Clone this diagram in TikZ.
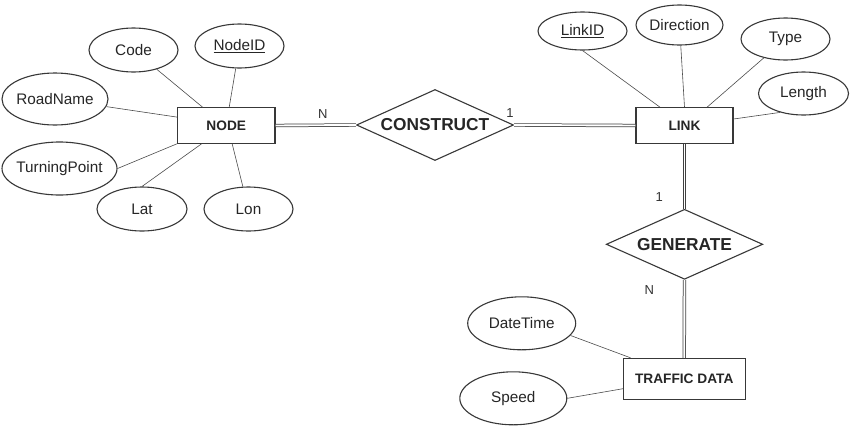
\documentclass[tikz,border=0pt]{standalone}
\usepackage{fontspec}
\setmainfont{Liberation Sans}
\usetikzlibrary{shapes.geometric,calc}
\newcommand{\zb}[1]{\makebox[0pt][c]{#1}}
\begin{document}
\begin{tikzpicture}[x=1pt,y=-1pt,
  ink/.style={draw=black!78, line width=1.1pt},
  erattr/.style={ellipse, ink, inner sep=0pt, font=\fontsize{15.3}{16}\selectfont, text=black!85},
  erent/.style={rectangle, ink, inner sep=0pt, font=\bfseries\fontsize{13.7}{15}\selectfont, text=black!85},
  errel/.style={diamond, ink, inner sep=0pt, aspect=2.2, font=\bfseries\fontsize{17.3}{19}\selectfont, text=black!85},
  attrline/.style={draw=black!70, line width=0.6pt},
  dbl/.style={draw=black!75, double=white, double distance=1.9pt, line width=0.75pt},
  cardlbl/.style={font=\fontsize{13}{14}\selectfont, text=black!80, inner sep=0pt}
]
\useasboundingbox[fill=white] (0,0) rectangle (850,426);

% entities
\node[erent, minimum width=97.5pt, minimum height=35.5pt] (nodeE) at (226.25,125.5) {NODE};
\node[erent, minimum width=97pt, minimum height=35.5pt] (link) at (684.5,125.5) {LINK};
\node[erent, minimum width=121.7pt, minimum height=40.7pt] (traffic) at (684.2,378.7) {TRAFFIC DATA};

% relationships
\node[errel, minimum width=157pt, minimum height=71pt] (construct) at (435,125) {CONSTRUCT};
\node[errel, minimum width=156.5pt, minimum height=70pt] (generate) at (684.5,244.3) {GENERATE};

% attributes
\node[erattr, minimum width=89pt, minimum height=44pt] (code) at (133.5,50) {\zb{Code}};
\node[erattr, minimum width=89pt, minimum height=44pt] (nodeid) at (239.5,46) {\zb{\underline{NodeID}}};
\node[erattr, minimum width=106pt, minimum height=52pt] (roadname) at (55,99) {\zb{RoadName}};
\node[erattr, minimum width=115pt, minimum height=53pt] (turning) at (59.5,168.5) {\zb{TurningPoint}};
\node[erattr, minimum width=90pt, minimum height=44pt] (lat) at (142,209) {\zb{Lat}};
\node[erattr, minimum width=89pt, minimum height=44pt] (lon) at (248.5,209) {\zb{Lon}};
\node[erattr, minimum width=89pt, minimum height=38pt] (linkid) at (582.5,31) {\zb{\underline{LinkID}}};
\node[erattr, minimum width=87pt, minimum height=40pt] (direction) at (679.5,25) {\zb{Direction}};
\node[erattr, minimum width=89pt, minimum height=42pt] (type) at (785.5,39) {\zb{Type}};
\node[erattr, minimum width=90pt, minimum height=43pt] (length) at (803.5,93.5) {\zb{Length}};
\node[erattr, minimum width=108pt, minimum height=53pt] (datetime) at (521.7,323.3) {\zb{DateTime}};
\node[erattr, minimum width=107pt, minimum height=53pt] (speed) at (513.3,398.3) {\zb{Speed}};

% attribute connectors
\draw[attrline] (code) -- ($(nodeE.north west)!0.26!(nodeE.north east)$);
\draw[attrline] (nodeid) -- ($(nodeE.north west)!0.53!(nodeE.north east)$);
\draw[attrline] (roadname) -- ($(nodeE.north west)!0.27!(nodeE.south west)$);
\draw[attrline] (turning.east) -- (nodeE.south west);
\draw[attrline] (lat.north) -- ($(nodeE.south west)!0.25!(nodeE.south east)$);
\draw[attrline] (lon) -- ($(nodeE.south west)!0.56!(nodeE.south east)$);
\draw[attrline] (linkid.south) -- ($(link.north west)!0.25!(link.north east)$);
\draw[attrline] (direction) -- (link.north);
\draw[attrline] (type) -- ($(link.north west)!0.73!(link.north east)$);
\draw[attrline] (length.219) -- ($(link.east)+(0,-6.5)$);
\draw[attrline] (datetime.-14) -- ($(traffic.north west)!0.063!(traffic.north east)$);
\draw[attrline] (speed.east) -- ($(traffic.north west)!0.74!(traffic.south west)$);

% relationship connectors
\draw[dbl] (nodeE.east) -- (construct.west);
\draw[dbl] (construct.east) -- (link.west);
\draw[dbl] (link.south) -- (generate.north);
\draw[dbl] (generate.south) -- (traffic.north);

% cardinalities
\node[cardlbl] (cN1) at (322.7,114) {N};
\node[cardlbl] (c11) at (510,113) {1};
\node[cardlbl] (c12) at (659.3,197) {1};
\node[cardlbl] (cN2) at (649.3,290) {N};
\end{tikzpicture}
\end{document}
